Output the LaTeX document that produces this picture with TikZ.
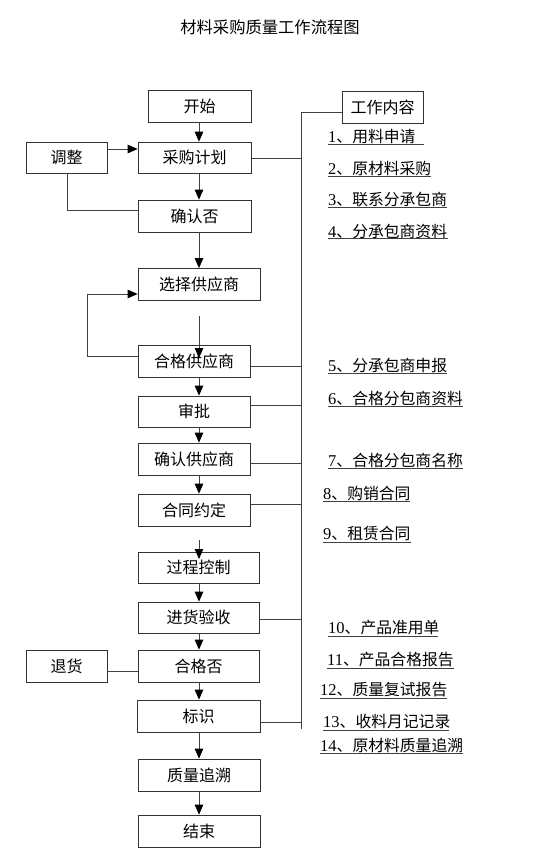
\documentclass[tikz,border=0pt]{standalone}
\usepackage{fontspec}
\setmainfont{Noto Sans CJK SC}
\newfontfamily\digs{Liberation Serif}
\usetikzlibrary{arrows.meta}
\tikzset{
  box/.style={draw=black!80, line width=0.7pt, inner sep=0pt, font=\fontsize{16}{17}\selectfont},
  conn/.style={draw=black!75, line width=0.8pt},
  arr/.style={conn, -{Triangle[length=10pt,width=8.5pt,color=black]}},
  item/.style={anchor=west, inner sep=0pt, font=\fontsize{15.8}{16}\selectfont},
  ul/.style={draw=black!75, line width=1pt}
}
\newcommand{\dg}[1]{{\digs\fontsize{16.5}{16}\selectfont #1}}
\begin{document}
\begin{tikzpicture}[x=1pt,y=-1pt]
\useasboundingbox (0,0) rectangle (554,866);
% title
\node[inner sep=0pt, font=\fontsize{16.3}{17}\selectfont] (title) at (270,27) {材料采购质量工作流程图};
% main boxes
\node[box, minimum width=103pt, minimum height=32pt] (start) at (199.5,106) {开始};
\node[box, minimum width=113pt, minimum height=31pt] (plan) at (194.5,157.5) {采购计划};
\node[box, minimum width=81pt, minimum height=31pt] (adjust) at (66.5,157.5) {调整};
\node[box, minimum width=113pt, minimum height=32pt] (confirm) at (194.5,216) {确认否};
\node[box, minimum width=122pt, minimum height=32pt] (select) at (199,284.5) {选择供应商};
\node[box, minimum width=112pt, minimum height=32pt] (qual) at (194,361) {合格供应商};
\node[box, minimum width=112pt, minimum height=31pt] (approve) at (194,411.5) {审批};
\node[box, minimum width=112pt, minimum height=32pt] (confsup) at (194,459) {确认供应商};
\node[box, minimum width=112pt, minimum height=32pt] (contract) at (194,510) {合同约定};
\node[box, minimum width=121pt, minimum height=31pt] (proc) at (198.5,567.5) {过程控制};
\node[box, minimum width=121pt, minimum height=31pt] (receive) at (198.5,617.5) {进货验收};
\node[box, minimum width=121pt, minimum height=32pt] (check) at (198.5,666) {合格否};
\node[box, minimum width=81pt, minimum height=32pt] (return) at (66.5,666) {退货};
\node[box, minimum width=123pt, minimum height=32pt] (mark) at (198.5,716) {标识};
\node[box, minimum width=122pt, minimum height=32pt] (trace) at (199,775) {质量追溯};
\node[box, minimum width=122pt, minimum height=32pt] (end) at (199,831) {结束};
\node[box, minimum width=81pt, minimum height=32pt] (work) at (382.5,107) {工作内容};
% main vertical arrows
\coordinate (ax) at (199,0);
\draw[arr] (start.south -| ax) -- (plan.north -| ax);
\draw[arr] (plan.south -| ax) -- (confirm.north -| ax);
\draw[arr] (confirm.south -| ax) -- (select.north -| ax);
\coordinate (g1) at (199,316);
\coordinate (g1e) at (199,358);
\draw[arr] (g1) -- (g1e);
\draw[arr] (qual.south -| ax) -- (approve.north -| ax);
\draw[arr] (approve.south -| ax) -- (confsup.north -| ax);
\draw[arr] (confsup.south -| ax) -- (contract.north -| ax);
\coordinate (g2) at (199,540);
\coordinate (g2e) at (199,559);
\draw[arr] (g2) -- (g2e);
\draw[arr] (proc.south -| ax) -- (receive.north -| ax);
\draw[arr] (receive.south -| ax) -- (check.north -| ax);
\draw[arr] (check.south -| ax) -- (mark.north -| ax);
\draw[arr] (mark.south -| ax) -- (trace.north -| ax);
\draw[arr] (trace.south -| ax) -- (end.north -| ax);
% feedback loops
\coordinate (ya) at (0,149);
\draw[arr] (adjust.east |- ya) -- (plan.west |- ya);
\coordinate (k1) at (67,210);
\draw[conn] (confirm.west |- k1) -- (k1) -- (k1 |- adjust.south);
\coordinate (k2) at (87,356);
\coordinate (k3) at (87,294);
\draw[arr] (qual.west |- k2) -- (k2) -- (k3) -- (select.west |- k3);
\coordinate (k4) at (0,671);
\draw[conn] (check.west |- k4) -- (return.east |- k4);
% right trunk
\coordinate (vtop) at (301,112);
\coordinate (vbot) at (301,729);
\draw[conn] (work.west |- vtop) -- (vtop) -- (vbot);
\coordinate (h1) at (301,158);
\coordinate (h2) at (301,366);
\coordinate (h3) at (301,405);
\coordinate (h4) at (301,463);
\coordinate (h5) at (301,504);
\coordinate (h6) at (301,619);
\coordinate (h7) at (301,722);
\draw[conn] (plan.east |- h1) -- (h1);
\draw[conn] (qual.east |- h2) -- (h2);
\draw[conn] (approve.east |- h3) -- (h3);
\draw[conn] (confsup.east |- h4) -- (h4);
\draw[conn] (contract.east |- h5) -- (h5);
\draw[conn] (receive.east |- h6) -- (h6);
\draw[conn] (mark.east |- h7) -- (h7);
% work items
\node[item] (i1) at (328,137) {\dg{1}、用料申请};
\draw[ul] (328,145) -- (424,145);
\node[item] (i2) at (328,169) {\dg{2}、原材料采购};
\draw[ul] (328,177) -- (431,177);
\node[item] (i3) at (328,200) {\dg{3}、联系分承包商};
\draw[ul] (328,208) -- (447,208);
\node[item] (i4) at (328,231) {\dg{4}、分承包商资料};
\draw[ul] (328,239) -- (448,239);
\node[item] (i5) at (328,365) {\dg{5}、分承包商申报};
\draw[ul] (328,373) -- (447,373);
\node[item] (i6) at (328,398) {\dg{6}、合格分包商资料};
\draw[ul] (328,406) -- (463,406);
\node[item] (i7) at (328,460) {\dg{7}、合格分包商名称};
\draw[ul] (328,468) -- (463,468);
\node[item] (i8) at (323,493) {\dg{8}、购销合同};
\draw[ul] (323,501) -- (410,501);
\node[item] (i9) at (323,533) {\dg{9}、租赁合同};
\draw[ul] (323,542) -- (411,542);
\node[item] (i10) at (328,628) {\dg{10}、产品准用单};
\draw[ul] (328,636) -- (438,636);
\node[item] (i11) at (327,660) {\dg{11}、产品合格报告};
\draw[ul] (327,668) -- (454,668);
\node[item] (i12) at (320,690) {\dg{12}、质量复试报告};
\draw[ul] (320,698) -- (447,698);
\node[item] (i13) at (323,722) {\dg{13}、收料月记记录};
\draw[ul] (323,730) -- (449,730);
\node[item] (i14) at (320,745) {\dg{14}、原材料质量追溯};
\draw[ul] (320,753) -- (463,753);
\end{tikzpicture}
\end{document}
